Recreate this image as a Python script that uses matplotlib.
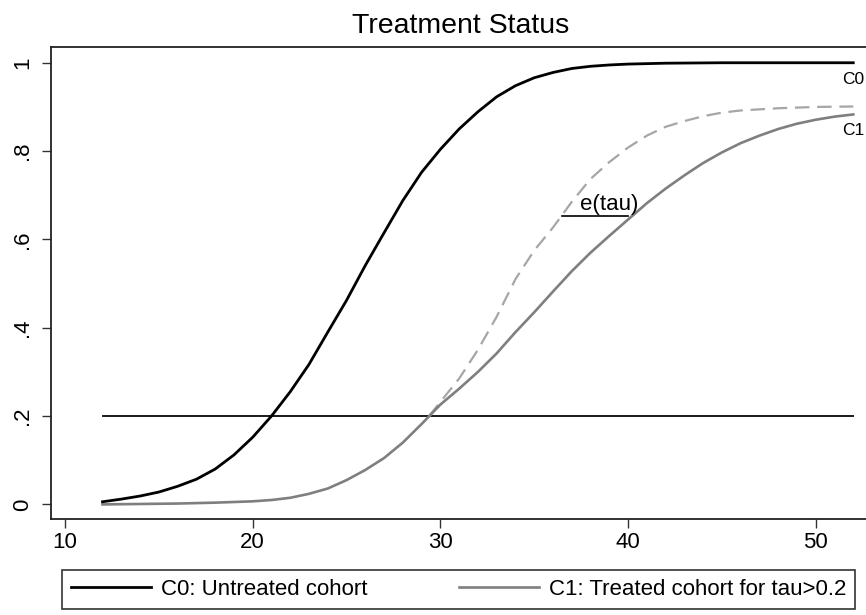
import matplotlib
matplotlib.use("Agg")
import matplotlib.pyplot as plt
from matplotlib.lines import Line2D

# ---- data -------------------------------------------------------------
c0_x = [12, 13, 14, 15, 16, 17, 18, 19, 20, 21, 22, 23, 24, 25, 26, 27, 28, 29, 30,
        31, 32, 33, 34, 35, 36, 37, 38, 39, 40, 42, 45, 52]
c0_y = [0.006, 0.012, 0.019, 0.028, 0.041, 0.057, 0.080, 0.112, 0.152, 0.200, 0.255,
        0.317, 0.390, 0.462, 0.541, 0.615, 0.688, 0.752, 0.804, 0.850, 0.889, 0.923,
        0.948, 0.966, 0.978, 0.987, 0.992, 0.995, 0.997, 0.999, 1.000, 1.000]

c1_x = [12, 14, 16, 18, 20, 21, 22, 23, 24, 25, 26, 27, 28, 29, 30, 31, 32, 33, 34, 35,
        36, 37, 38, 39, 40, 41, 42, 43, 44, 45, 46, 47, 48, 49, 50, 51, 52]
c1_y = [0.000, 0.001, 0.002, 0.004, 0.007, 0.010, 0.015, 0.024, 0.036, 0.055, 0.078,
        0.105, 0.140, 0.182, 0.226, 0.262, 0.300, 0.342, 0.390, 0.435, 0.482, 0.528,
        0.570, 0.608, 0.645, 0.682, 0.715, 0.745, 0.773, 0.797, 0.818, 0.835, 0.850,
        0.862, 0.871, 0.878, 0.883]

cf_x = [29.4, 30, 31, 32, 33, 34, 35, 36, 37, 38, 39, 40, 41, 42, 43, 44, 45, 46, 48, 50, 52]
cf_y = [0.200, 0.232, 0.285, 0.350, 0.425, 0.510, 0.575, 0.627, 0.685, 0.737, 0.775,
        0.808, 0.835, 0.855, 0.868, 0.879, 0.887, 0.892, 0.897, 0.900, 0.901]

tau_x = [12, 52]
tau_level = 0.2

etau_x = [36.5, 40.0]
etau_y = 0.654
etau_label_xy = (37.45, 0.666)

xticks = [10, 20, 30, 40, 50]
yticks = [0, 0.2, 0.4, 0.6, 0.8, 1.0]
ytick_labels = ["0", ".2", ".4", ".6", ".8", "1"]

title = "Treatment Status"
legend_labels = ["C0: Untreated cohort", "C1: Treated cohort for tau>0.2"]
end_labels = ["C0", "C1"]

# ---- styling ----------------------------------------------------------
plt.rcParams['font.family'] = ['Liberation Sans', 'DejaVu Sans']

W, H = 866, 615
fig = plt.figure(figsize=(W / 100, H / 100), dpi=100)
ax = fig.add_axes([50.7 / W, (H - 519) / H, (870 - 50.7) / W, (519 - 47.3) / H])

black = "#000000"
gray = "#7f7f7f"
lgray = "#a6a6a6"

ax.plot(tau_x, [tau_level, tau_level], color="#1a1a1a", lw=1.4, zorder=2)
ax.plot(cf_x, cf_y, color=lgray, lw=1.6, dashes=(6.5, 3.5), zorder=3)
ax.plot(c1_x, c1_y, color=gray, lw=1.9, zorder=4)
ax.plot(c0_x, c0_y, color=black, lw=2.0, zorder=5)

ax.plot(etau_x, [etau_y, etau_y], color=black, lw=1.2, zorder=6)
ax.text(etau_label_xy[0], etau_label_xy[1], "e(tau)", fontsize=16,
        ha="left", va="baseline", zorder=7)

ax.annotate(end_labels[0], (c0_x[-1], c0_y[-1]), xytext=(0, -6.5),
            textcoords="offset points", ha="center", va="top", fontsize=12.5)
ax.annotate(end_labels[1], (c1_x[-1], c1_y[-1]), xytext=(0, -6.5),
            textcoords="offset points", ha="center", va="top", fontsize=12.5)

ax.set_xlim(9.24, 52.89)
ax.set_ylim(-0.033, 1.035)
ax.set_xticks(xticks)
ax.set_xticklabels([str(t) for t in xticks])
ax.set_yticks(yticks)
ax.set_yticklabels(ytick_labels, rotation=90, va="center")
ax.tick_params(axis="both", labelsize=16, length=6.5, width=1.0, color="#333333")
ax.tick_params(axis="x", pad=3)
ax.tick_params(axis="y", pad=6)
for s in ax.spines.values():
    s.set_linewidth(1.3)
    s.set_color("#222222")
ax.spines["right"].set_visible(False)

ax.set_title(title, fontsize=20.5, pad=10)

handles = [Line2D([], [], color=black, lw=2.0), Line2D([], [], color=gray, lw=1.9)]
leg = fig.legend(handles, legend_labels, loc="upper left",
                 bbox_to_anchor=(62 / W, (H - 613) / H, (855 - 62) / W, 43 / H),
                 mode="expand", ncol=2, fontsize=16, frameon=True, fancybox=False,
                 shadow=False, borderaxespad=0, handlelength=3.6, handletextpad=0.45,
                 borderpad=0.4)
leg.get_frame().set_edgecolor("black")
leg.get_frame().set_linewidth(1.2)

fig.savefig("out.png", dpi=100)
